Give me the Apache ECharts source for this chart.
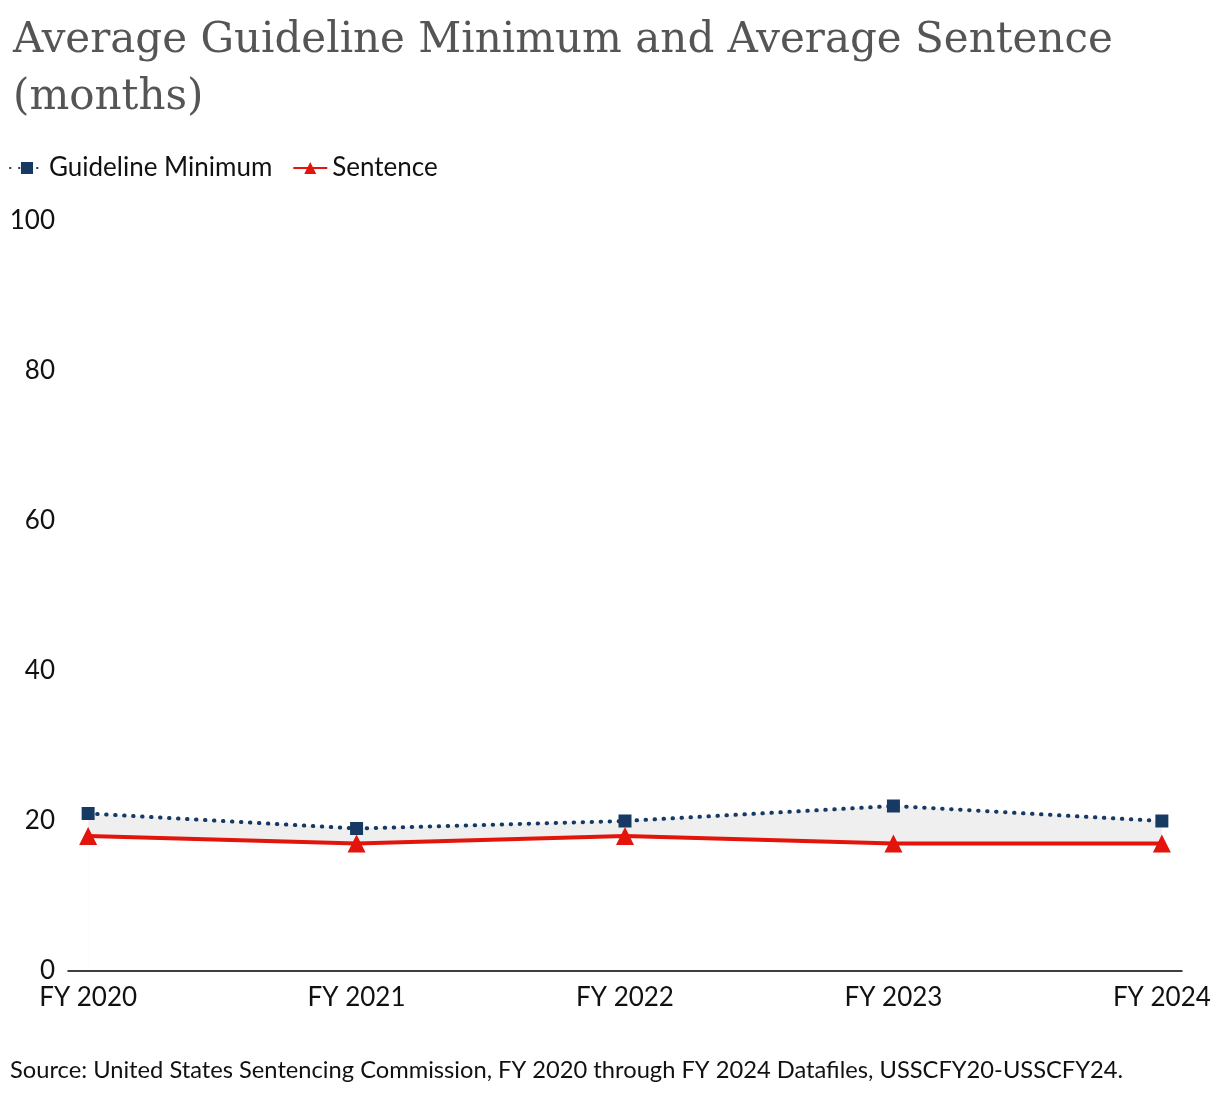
<!DOCTYPE html>
<html><head><meta charset="utf-8">
<script src="https://cdn.jsdelivr.net/npm/echarts@6/dist/echarts.min.js"></script>
<style>html,body{margin:0;padding:0;background:#fff}#c{width:1220px;height:1098px}</style>
</head><body><div id="c"></div>
<script>
const categories = ['FY 2020','FY 2021','FY 2022','FY 2023','FY 2024'];
const guidelineMinimum = [21, 19, 20, 22, 20];
const sentence = [18, 17, 18, 17, 17];
const yTicks = [0, 20, 40, 60, 80, 100];

const idx = categories.map((c, i) => i);
const chart = echarts.init(document.getElementById('c'));
chart.setOption({
  animation: false,
  title: {
    text: 'Average Guideline Minimum and Average Sentence\n(months)',
    left: 8, top: 8,
    textStyle: { fontFamily: 'DejaVu Serif', fontSize: 42, fontWeight: 'normal', color: '#555555', lineHeight: 57 }
  },
  legend: {
    left: 4, top: 150, itemWidth: 34, itemHeight: 15, itemGap: 20,
    textStyle: { fontFamily: 'Lato', fontSize: 26, color: '#111' },
    data: ['Guideline Minimum', 'Sentence']
  },
  graphic: [{
    type: 'text', left: 10, top: 1058,
    style: { text: 'Source: United States Sentencing Commission, FY 2020 through FY 2024 Datafiles, USSCFY20-USSCFY24.', font: '23.7px Lato', fill: '#111' }
  }],
  grid: { left: 68, right: 38, top: 221, bottom: 127 },
  xAxis: {
    type: 'value', min: -0.075, max: 4.075, z: 10,
    axisLine: { show: true, lineStyle: { color: '#000', width: 1.5 } },
    axisTick: { show: false },
    splitLine: { show: false },
    axisLabel: { customValues: idx, formatter: v => categories[Math.round(v)], fontFamily: 'Lato', fontSize: 26, color: '#111', margin: 14 }
  },
  yAxis: {
    type: 'value', min: 0, max: 100, interval: 20,
    axisLine: { show: false }, axisTick: { show: false }, splitLine: { show: false },
    axisLabel: { customValues: yTicks, fontFamily: 'Lato', fontSize: 26, color: '#111', margin: 13 }
  },
  series: [
    { name: 'gapTop', type: 'line', data: idx.map(i => [i, guidelineMinimum[i]]), symbol: 'none',
      lineStyle: { opacity: 0 }, areaStyle: { color: '#efefef', opacity: 1, origin: 'start' }, silent: true, z: 1 },
    { name: 'gapBottom', type: 'line', data: idx.map(i => [i, sentence[i]]), symbol: 'none',
      lineStyle: { opacity: 0 }, areaStyle: { color: '#ffffff', opacity: 1, origin: 'start' }, silent: true, z: 1.5 },
    { name: 'Guideline Minimum', type: 'line', data: idx.map(i => [i, guidelineMinimum[i]]),
      symbol: 'rect', symbolSize: 13, itemStyle: { color: '#163a63' },
      lineStyle: { color: '#163a63', width: 4, type: [0.5, 8.5], cap: 'round' }, z: 3 },
    { name: 'Sentence', type: 'line', data: idx.map(i => [i, sentence[i]]),
      symbol: 'triangle', symbolSize: 18, itemStyle: { color: '#e2140c' },
      lineStyle: { color: '#e2140c', width: 4 }, z: 4 }
  ]
});
</script></body></html>
